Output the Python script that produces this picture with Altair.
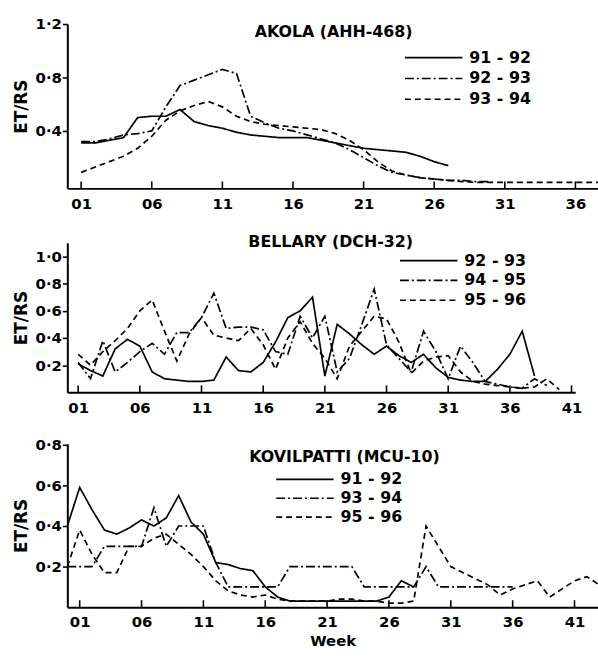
import altair as alt
import pandas as pd

FONT = "DejaVu Sans"

# ---------------- AKOLA (AHH-468) ----------------
ak_seasons = ["91 - 92", "92 - 93", "93 - 94"]
ak_weeks_9192 = list(range(1, 28))
ak_9192 = [0.31, 0.31, 0.33, 0.35, 0.50, 0.51, 0.51, 0.56, 0.47, 0.44, 0.42, 0.39, 0.37, 0.36,
           0.35, 0.35, 0.35, 0.33, 0.31, 0.29, 0.27, 0.26, 0.25, 0.24, 0.21, 0.17, 0.14]
ak_weeks_9293 = list(range(1, 31))
ak_9293 = [0.32, 0.32, 0.34, 0.37, 0.38, 0.40, 0.58, 0.74, 0.78, 0.82, 0.86, 0.83, 0.51, 0.46,
           0.42, 0.40, 0.37, 0.34, 0.31, 0.26, 0.20, 0.14, 0.09, 0.07, 0.05, 0.04, 0.03, 0.03,
           0.02, 0.02]
ak_weeks_9394 = list(range(1, 39))
ak_9394 = [0.09, 0.13, 0.17, 0.21, 0.27, 0.36, 0.48, 0.55, 0.59, 0.62, 0.58, 0.51, 0.47, 0.45,
           0.44, 0.43, 0.42, 0.41, 0.38, 0.33, 0.26, 0.17, 0.10, 0.07, 0.05, 0.04, 0.03, 0.02,
           0.015, 0.015, 0.015, 0.015, 0.015, 0.015, 0.015, 0.015, 0.015, 0.015]

# ---------------- BELLARY (DCH-32) ----------------
be_seasons = ["92 - 93", "94 - 95", "95 - 96"]
be_weeks_9293 = list(range(1, 39))
be_9293 = [0.21, 0.16, 0.12, 0.32, 0.39, 0.34, 0.15, 0.10, 0.09, 0.08, 0.08, 0.09, 0.26, 0.16,
           0.15, 0.22, 0.37, 0.55, 0.60, 0.70, 0.12, 0.50, 0.43, 0.35, 0.28, 0.34, 0.27, 0.22,
           0.28, 0.18, 0.11, 0.09, 0.08, 0.08, 0.17, 0.28, 0.45, 0.12]
be_weeks_9495 = list(range(1, 40))
be_9495 = [0.22, 0.10, 0.38, 0.15, 0.22, 0.30, 0.36, 0.28, 0.44, 0.44, 0.55, 0.73, 0.47, 0.48,
           0.48, 0.46, 0.30, 0.28, 0.56, 0.40, 0.56, 0.15, 0.25, 0.50, 0.76, 0.35, 0.25, 0.15,
           0.45, 0.30, 0.10, 0.34, 0.22, 0.08, 0.06, 0.04, 0.03, 0.10, 0.05]
be_weeks_9596 = list(range(1, 41))
be_9596 = [0.28, 0.20, 0.30, 0.38, 0.47, 0.60, 0.68, 0.45, 0.23, 0.43, 0.55, 0.42, 0.40, 0.38,
           0.47, 0.35, 0.17, 0.40, 0.52, 0.36, 0.25, 0.10, 0.34, 0.45, 0.56, 0.54, 0.37, 0.14,
           0.23, 0.26, 0.27, 0.15, 0.08, 0.06, 0.05, 0.04, 0.03, 0.04, 0.10, 0.02]

# ---------------- KOVILPATTI (MCU-10) ----------------
ko_seasons = ["91 - 92", "93 - 94", "95 - 96"]
ko_weeks_9192 = list(range(0, 29))
ko_9192 = [0.40, 0.59, 0.48, 0.38, 0.36, 0.39, 0.43, 0.40, 0.44, 0.55, 0.42, 0.36, 0.22, 0.21,
           0.19, 0.18, 0.10, 0.05, 0.03, 0.03, 0.03, 0.03, 0.03, 0.03, 0.03, 0.03, 0.05, 0.13,
           0.10]
ko_weeks_9394 = list(range(0, 37))
ko_9394 = [0.20, 0.20, 0.20, 0.30, 0.30, 0.30, 0.30, 0.49, 0.30, 0.40, 0.40, 0.40, 0.22, 0.10,
           0.10, 0.10, 0.10, 0.10, 0.20, 0.20, 0.20, 0.20, 0.20, 0.20, 0.10, 0.10, 0.10, 0.10,
           0.10, 0.20, 0.10, 0.10, 0.10, 0.10, 0.10, 0.10, 0.10]
ko_weeks_9596 = list(range(0, 44))
ko_9596 = [0.20, 0.38, 0.26, 0.17, 0.17, 0.30, 0.30, 0.34, 0.36, 0.31, 0.26, 0.20, 0.13, 0.08,
           0.06, 0.05, 0.06, 0.04, 0.03, 0.03, 0.03, 0.03, 0.04, 0.04, 0.03, 0.03, 0.02, 0.02,
           0.03, 0.40, 0.30, 0.20, 0.17, 0.14, 0.11, 0.06, 0.09, 0.11, 0.13, 0.05, 0.09, 0.13,
           0.15, 0.11]

ticks_ak = [1, 6, 11, 16, 21, 26, 31, 36]
ticks_be = [1, 6, 11, 16, 21, 26, 31, 36, 41]
ticks_ko = [1, 6, 11, 16, 21, 26, 31, 36, 41]
yt_ak = [0.4, 0.8, 1.2]
yt_be = [0.2, 0.4, 0.6, 0.8, 1.0]
yt_ko = [0.2, 0.4, 0.6, 0.8]

DASHES = [[1, 0], [9, 3, 2, 3], [6, 4]]


def frame(seasons, weeks_list, vals_list):
    rows = []
    for s, ws, vs in zip(seasons, weeks_list, vals_list):
        for w, v in zip(ws, vs):
            rows.append({"season": s, "week": w, "value": v})
    return pd.DataFrame(rows)


def panel(df, seasons, title, tx, ty, xdom, xticks, ydom, yticks, w, h, legx, legy, rowpad,
          xtitle=None):
    xscale = alt.Scale(domain=xdom, nice=False, zero=False)
    yscale = alt.Scale(domain=ydom, nice=False, zero=False)
    xaxis = alt.Axis(values=xticks, ticks=False, labelPadding=8, title=xtitle,
                     labelExpr="datum.value < 10 ? '0' + datum.value : '' + datum.value")
    yaxis = alt.Axis(values=yticks, tickSize=5, tickWidth=1.6, labelPadding=1, title="ET/RS",
                     labelExpr="replace(format(datum.value, '.1f'), '.', '·')")
    lines = alt.Chart(df).mark_line(color="black", strokeWidth=1.7, clip=True).encode(
        x=alt.X("week:Q", scale=xscale, axis=xaxis),
        y=alt.Y("value:Q", scale=yscale, axis=yaxis),
        strokeDash=alt.StrokeDash(
            "season:N",
            scale=alt.Scale(domain=seasons, range=DASHES),
            legend=alt.Legend(orient="none", legendX=legx, legendY=legy, title=None,
                              symbolType="M-11,0H0.6", symbolSize=100,
                              symbolStrokeWidth=1.7, symbolStrokeColor="black",
                              symbolFillColor="transparent",
                              labelFont=FONT, labelFontSize=16, labelFontWeight="bold",
                              labelColor="black", labelOffset=2, rowPadding=rowpad),
        ),
    )
    tick_df = pd.DataFrame({"week": xticks})
    tks = alt.Chart(tick_df).mark_rule(color="black", strokeWidth=1.6).encode(
        x=alt.X("week:Q", scale=xscale, axis=xaxis),
        y=alt.value(h),
        y2=alt.value(h - 7),
    )
    ttl = alt.Chart(pd.DataFrame({"label": [title]})).mark_text(
        font=FONT, fontSize=16, fontWeight="bold", color="black", align="center",
        baseline="middle").encode(x=alt.value(tx), y=alt.value(ty), text="label:N")
    return alt.layer(lines, tks, ttl).properties(width=w, height=h)


ak = panel(frame(ak_seasons, [ak_weeks_9192, ak_weeks_9293, ak_weeks_9394], [ak_9192, ak_9293, ak_9394]),
           ak_seasons, "AKOLA (AHH-468)", 269, 8,
           [0.02, 37.6], ticks_ak, [-0.03, 1.2], yt_ak, 536, 166, 388, 26, 5)
be = panel(frame(be_seasons, [be_weeks_9293, be_weeks_9495, be_weeks_9596], [be_9293, be_9495, be_9596]),
           be_seasons, "BELLARY (DCH-32)", 266, -1,
           [0.12, 41.3], ticks_be, [0, 1.1], yt_be, 513, 151, 383, 10, 4)
ko = panel(frame(ko_seasons, [ko_weeks_9192, ko_weeks_9394, ko_weeks_9596], [ko_9192, ko_9394, ko_9596]),
           ko_seasons, "KOVILPATTI (MCU-10)", 280, 13,
           [0, 42.9], ticks_ko, [0, 0.805], yt_ko, 536, 165, 258, 28, 3, xtitle="Week")

chart = alt.vconcat(ak, be, ko, spacing=23).resolve_scale(
    strokeDash="independent", x="independent", y="independent"
).properties(
    padding={"left": 12, "top": 14, "right": 0, "bottom": 0}
).configure_view(stroke=None).configure_axis(
    domainColor="black", domainWidth=2, labelColor="black", labelFont=FONT, labelFontSize=15,
    labelFontWeight="bold", grid=False, titleFont=FONT, titleFontSize=17, titleFontWeight="bold",
    titleColor="black", tickColor="black", titlePadding=5
).configure_axisX(titleFontSize=15, titlePadding=4)

chart.save("out.html", embed_options={"renderer": "svg", "actions": False})
